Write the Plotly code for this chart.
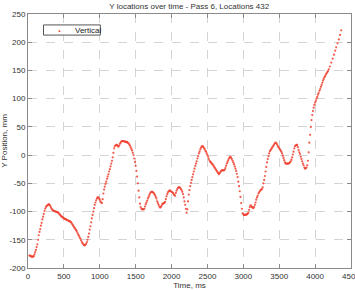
import plotly.graph_objects as go

# sampling times (ms): uniform 10 ms up to 4190, sparser tail
time_main = list(range(20, 4200, 10))
time_tail = [4205, 4225, 4245, 4262, 4280, 4294, 4312, 4331, 4348, 4364]

y_main = [
    -178, -178, -179, -180, -180, -180, -179, -176,
    -172, -168, -163, -158, -150, -142, -136, -131, -125, -120,
    -114, -109, -104, -99, -95, -92, -90, -89, -88, -87,
    -88, -90, -93, -95, -97, -98, -99, -99, -100, -100,
    -101, -101, -102, -103, -105, -106, -108, -109, -110, -111,
    -112, -113, -113, -114, -115, -115, -116, -117, -117, -118,
    -119, -121, -123, -125, -127, -129, -131, -133, -135, -138,
    -141, -143, -146, -148, -151, -154, -156, -158, -159, -160,
    -159, -157, -154, -150, -145, -139, -132, -126, -119, -112,
    -106, -100, -94, -88, -84, -80, -77, -75, -75, -77,
    -79, -82, -84, -85, -78, -68, -61, -56, -51, -47,
    -42, -38, -34, -29, -25, -20, -15, -10, -4, 4,
    12, 16, 17, 18, 18, 16, 15, 17, 20, 22,
    24, 25, 25, 25, 24, 24, 24, 23, 23, 22,
    21, 19, 17, 14, 11, 8, 4, 0, -6, -12,
    -19, -28, -38, -50, -63, -75, -86, -92, -95, -96,
    -96, -96, -95, -91, -87, -84, -81, -77, -74, -71,
    -68, -66, -65, -65, -66, -67, -69, -71, -74, -77,
    -82, -85, -88, -91, -93, -92, -90, -87, -86, -85,
    -85, -83, -78, -73, -69, -66, -64, -63, -63, -64,
    -65, -66, -67, -69, -71, -72, -67, -63, -60, -58,
    -57, -57, -58, -60, -62, -65, -69, -75, -82, -88,
    -95, -102, -96, -82, -70, -62, -55, -49, -44, -39,
    -34, -29, -24, -19, -15, -11, -6, -2, 3, 6,
    10, 13, 15, 16, 15, 13, 11, 8, 6, 3,
    0, -3, -7, -10, -12, -13, -15, -16, -18, -20,
    -22, -24, -26, -28, -30, -32, -34, -32, -30, -28,
    -27, -27, -27, -27, -26, -23, -19, -15, -12, -9,
    -6, -4, -3, -5, -7, -10, -13, -16, -20, -24,
    -28, -33, -39, -47, -55, -64, -74, -85, -95, -103,
    -105, -106, -106, -106, -105, -105, -104, -102, -97, -92,
    -89, -90, -92, -93, -94, -92, -88, -84, -79, -75,
    -72, -68, -66, -64, -62, -61, -60, -57, -50, -44,
    -37, -29, -21, -13, -7, -2, 3, 7, 9, 11,
    13, 15, 17, 19, 21, 22, 21, 19, 16, 14,
    12, 10, 8, 6, 3, -1, -5, -9, -13, -15,
    -15, -15, -15, -15, -14, -13, -11, -8, -4, 1,
    6, 12, 16, 17, 18, 18, 14, 9, 5, 2,
    -3, -7, -11, -15, -18, -22, -24, -23, -22, -18,
    -10, 5, 22, 36, 50, 62, 71, 78, 84, 89,
    93, 96, 100, 103, 107, 110, 114, 117, 121, 124,
    128, 132, 135, 138, 140, 143, 145, 147, 149, 152,
]
y_tail = [157, 164, 171, 178, 185, 191, 198, 205, 213, 221]

time_ms = time_main + time_tail
y_pos = y_main + y_tail

x_ticks = [0, 500, 1000, 1500, 2000, 2500, 3000, 3500, 4000, 4500]
y_ticks = [-200, -150, -100, -50, 0, 50, 100, 150, 200, 250]
series_name = "Vertical"
dot_color = "#f04030"
font_family = "Liberation Sans"

fig = go.Figure()
fig.add_trace(go.Scatter(
    x=time_ms, y=y_pos, mode="markers", name=series_name, showlegend=False,
    marker=dict(color=dot_color, size=2.2, opacity=0.85, line=dict(width=0)),
))

axis_common = dict(
    showline=True, linecolor="#8a8a8a", linewidth=1, mirror="allticks",
    ticks="inside", ticklen=4, tickcolor="#8a8a8a",
    showgrid=True, gridcolor="#d4d4d4", griddash="dash", gridwidth=1,
    zeroline=False, ticklabeloverflow="allow",
    tickfont=dict(size=8, color="#333333", family=font_family),
)

# legend box (drawn in paper coordinates, MATLAB style)
lx0, lx1, ly0, ly1 = 0.048, 0.224, 0.917, 0.957
fig.add_shape(type="rect", xref="paper", yref="paper", x0=lx0, x1=lx1, y0=ly0, y1=ly1,
              line=dict(color="#555555", width=1), fillcolor="white", layer="above")
fig.add_annotation(xref="paper", yref="paper", x=0.097, y=(ly0 + ly1) / 2,
                   text="•", showarrow=False, font=dict(size=8, color=dot_color),
                   xanchor="center", yanchor="middle")
fig.add_annotation(xref="paper", yref="paper", x=0.140, y=(ly0 + ly1) / 2,
                   text=series_name, showarrow=False,
                   font=dict(size=8, color="#222222", family=font_family),
                   xanchor="left", yanchor="middle")

fig.update_layout(
    width=355, height=290,
    margin=dict(l=28, r=4, t=14, b=22),
    paper_bgcolor="white", plot_bgcolor="white",
    title=dict(text="Y locations over time - Pass 6, Locations 432",
               x=0.533, xanchor="center", y=0.978, yanchor="middle",
               font=dict(size=8, color="#333333", family=font_family)),
    showlegend=False,
    xaxis=dict(range=[0, 4500], tickvals=x_ticks, ticktext=[str(v) for v in x_ticks],
               title=dict(text="Time, ms", standoff=8,
                          font=dict(size=8, color="#333333", family=font_family)),
               automargin=False, **axis_common),
    yaxis=dict(range=[-200, 250], tickvals=y_ticks, ticktext=[str(v) for v in y_ticks],
               title=dict(text="Y Position, mm", standoff=12,
                          font=dict(size=8, color="#333333", family=font_family)),
               automargin=False, **axis_common),
)

fig.write_html("out.html")
